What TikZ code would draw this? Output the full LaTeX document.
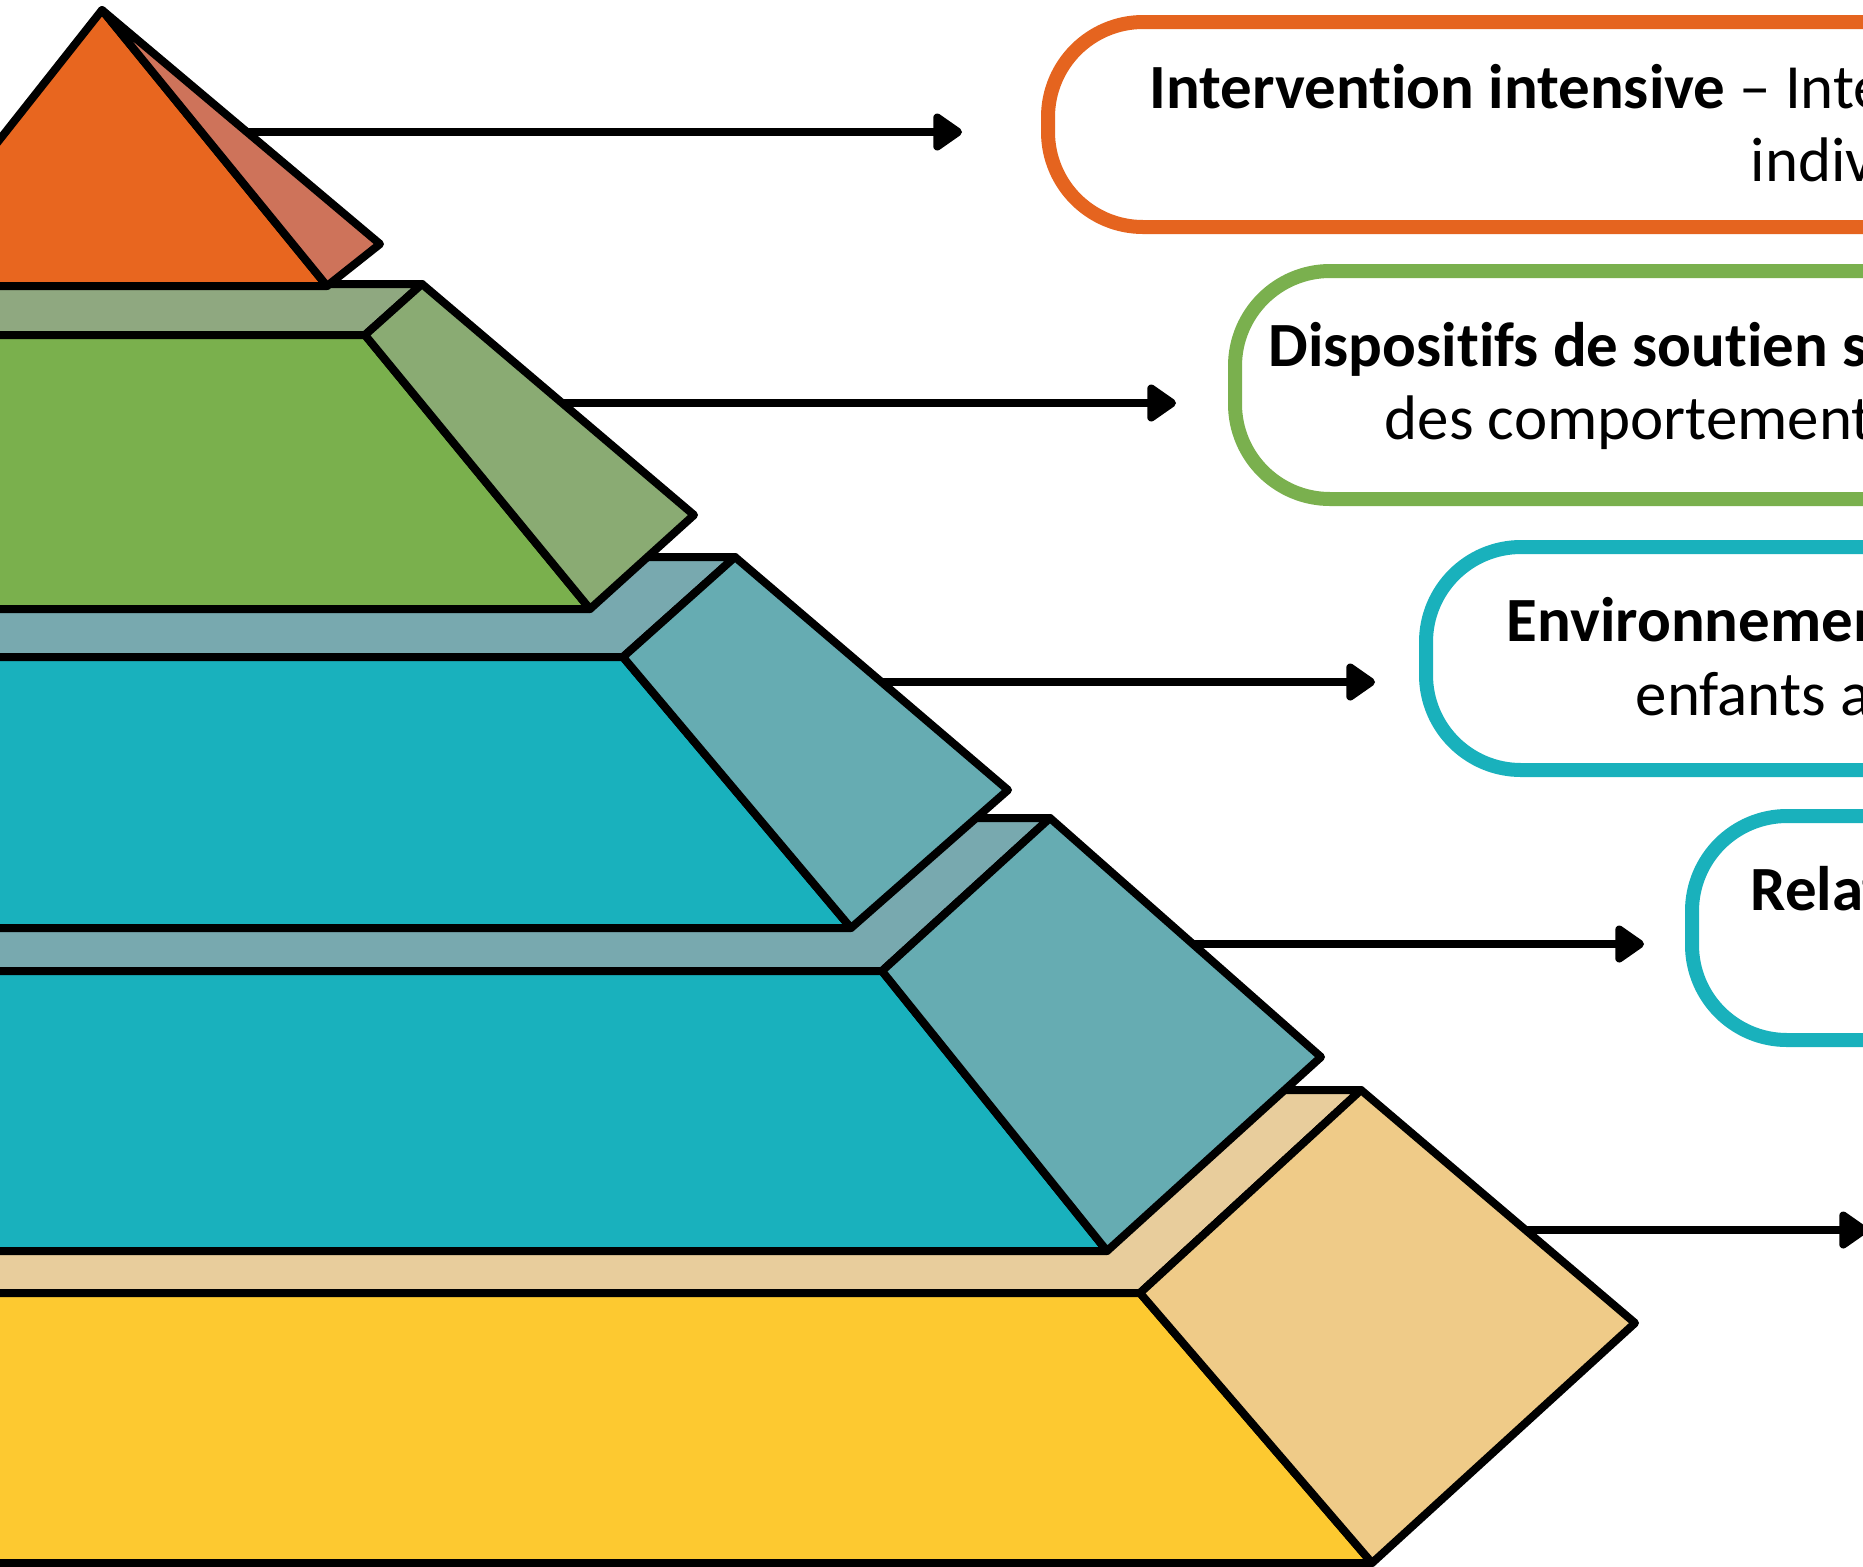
\documentclass[tikz,border=0pt]{standalone}
\usepackage{fontspec}
\setmainfont[Ligatures={NoCommon,NoContextual,NoRare}, Contextuals=NoAlternate]{Carlito}
\usetikzlibrary{arrows.meta}
\definecolor{orangeF}{HTML}{E8661F}
\definecolor{orangeS}{HTML}{CE735A}
\definecolor{greenF}{HTML}{7AB04D}
\definecolor{greenS}{HTML}{8AAB73}
\definecolor{greenL}{HTML}{8FA880}
\definecolor{tealF}{HTML}{19B1BD}
\definecolor{tealS}{HTML}{66ACB2}
\definecolor{tealL}{HTML}{78A9AF}
\definecolor{yellowF}{HTML}{FDC930}
\definecolor{yellowS}{HTML}{EFCB88}
\definecolor{yellowL}{HTML}{E8CD9C}
\definecolor{boxOrange}{HTML}{E5641F}
\definecolor{boxGreen}{HTML}{7AB04E}
\definecolor{boxTeal}{HTML}{19B1BC}
\tikzset{
	face/.style={draw=black, line width=0.08cm, line join=round},
	link/.style={line width=0.085cm, -{Triangle[length=0.32cm,width=0.42cm,round]}},
	tierbox/.style={line width=0.14cm, rounded corners=0.95cm},
	lbl/.style={anchor=base west, inner sep=0pt, font=\fontsize{17.9pt}{21pt}\selectfont},
}

\begin{document}
\begin{tikzpicture}[x=0.01cm, y=-0.01cm]
		%%%%% START %%%%%
		
		\fill[white] (0, 0) rectangle (1863, 1566);
		\useasboundingbox (0, 0) rectangle (1863, 1566);
		
		% boxes on the right
		\draw[tierbox, draw=boxOrange] (1048, 22) rectangle (2200, 227);
		\draw[tierbox, draw=boxGreen] (1235, 271) rectangle (2200, 499);
		\draw[tierbox, draw=boxTeal] (1426, 547) rectangle (2200, 770);
		\draw[tierbox, draw=boxTeal] (1692, 816) rectangle (2200, 1040);
		
		% tier 5 (bottom)
		\draw[face, fill=yellowL] (-300, 1090) -- (1361, 1090) -- (1140, 1293) -- (-300, 1293) -- cycle;
		\draw[face, fill=yellowF] (-300, 1293) -- (1140, 1293) -- (1372, 1563) -- (-300, 1563) -- cycle;
		\draw[face, fill=yellowS] (1140, 1293) -- (1361, 1090) -- (1635, 1323) -- (1372, 1563) -- cycle;
		
		% tier 4
		\draw[face, fill=tealL] (-300, 818) -- (1050, 818) -- (882, 971) -- (-300, 971) -- cycle;
		\draw[face, fill=tealF] (-300, 971) -- (882, 971) -- (1107, 1251) -- (-300, 1251) -- cycle;
		\draw[face, fill=tealS] (882, 971) -- (1050, 818) -- (1321, 1057) -- (1107, 1251) -- cycle;
		
		% tier 3
		\draw[face, fill=tealL] (-300, 557) -- (735, 557) -- (623, 657) -- (-300, 657) -- cycle;
		\draw[face, fill=tealF] (-300, 657) -- (623, 657) -- (851, 928) -- (-300, 928) -- cycle;
		\draw[face, fill=tealS] (623, 657) -- (735, 557) -- (1008, 790) -- (851, 928) -- cycle;
		
		% tier 2
		\draw[face, fill=greenL] (-300, 284) -- (422, 284) -- (365, 335) -- (-300, 335) -- cycle;
		\draw[face, fill=greenF] (-300, 335) -- (365, 335) -- (590, 609) -- (-300, 609) -- cycle;
		\draw[face, fill=greenS] (365, 335) -- (422, 284) -- (694, 515) -- (590, 609) -- cycle;
		
		% tier 1 (top)
		\draw[face, fill=orangeF] (102, 10) -- (327, 286) -- (-116, 286) -- cycle;
		\draw[face, fill=orangeS] (102, 10) -- (380, 244) -- (327, 286) -- cycle;
		
		% arrows
		\coordinate (a1s) at (247, 132);   \coordinate (a1e) at (962, 132);
		\coordinate (a2s) at (563, 403);   \coordinate (a2e) at (1176, 403);
		\coordinate (a3s) at (881, 682);   \coordinate (a3e) at (1375, 682);
		\coordinate (a4s) at (1193, 944);  \coordinate (a4e) at (1644, 944);
		\coordinate (a5s) at (1526, 1230); \coordinate (a5e) at (1868, 1230);
		\draw[link] (a1s) -- (a1e);
		\draw[link] (a2s) -- (a2e);
		\draw[link] (a3s) -- (a3e);
		\draw[link] (a4s) -- (a4e);
		\draw[link] (a5s) -- (a5e);
		
		% texts
		\node[lbl] (t1a) at (1149, 108) {\textbf{Intervention intensive} – Inte};
		\node[lbl] (t1b) at (1750, 181) {indiv};
		\node[lbl] (t2a) at (1268, 366) {\textbf{Dispositifs de soutien s}};
		\node[lbl] (t2b) at (1384, 439) {des comportement};
		\node[lbl] (t3a) at (1506, 641) {\textbf{Environnemen}};
		\node[lbl] (t3b) at (1635, 715) {enfants a};
		\node[lbl] (t4a) at (1750, 910) {\textbf{Relat}};
		
		%%%%% END %%%%%
	\end{tikzpicture}
\end{document}
